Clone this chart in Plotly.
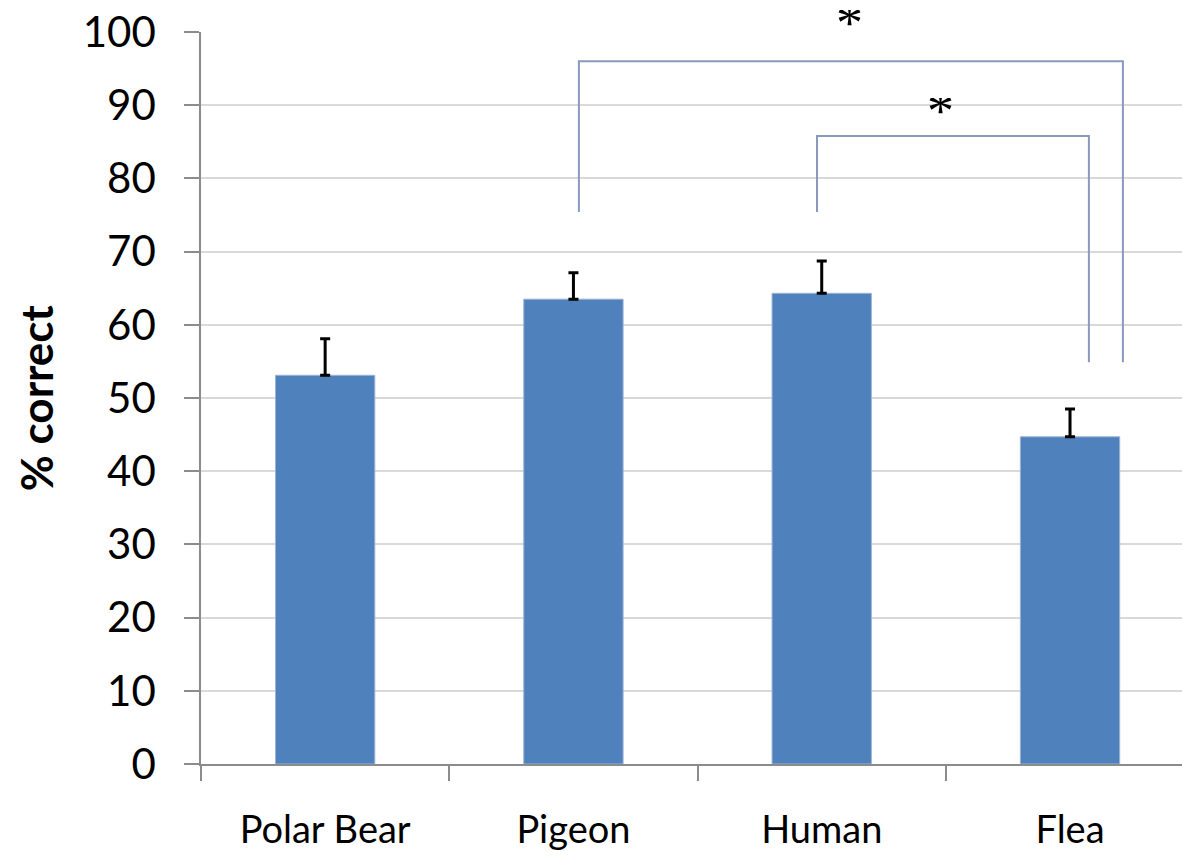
import plotly.graph_objects as go

# Mean accuracy per group with upper error bar
categories = ["Polar Bear", "Pigeon", "Human", "Flea"]
means = [53.1, 63.5, 64.3, 44.7]
errors = [5.0, 3.6, 4.4, 3.8]

# Significance brackets: (left group, right group), bracket top, leg bottoms
bracket_pairs = [("Pigeon", "Flea"), ("Human", "Flea")]
bracket_tops = [96.0, 85.8]
bracket_left_bottoms = [75.4, 75.4]
bracket_right_bottoms = [54.9, 54.9]
bracket_left_offsets = [0.022, -0.019]
bracket_right_offsets = [0.213, 0.076]
star_labels = ["*", "*"]
star_y = [101.2, 89.2]
star_offsets = [-0.006, -0.05]

y_ticks = list(range(0, 101, 10))
Y_MAX = 100

BAR_BLUE = "#4F81BD"
BRACKET = "#8C99BE"
GRID = "#D9D9D9"
AXIS = "#8C8C8C"

fig = go.Figure()
fig.add_trace(go.Bar(
    x=categories,
    y=means,
    marker=dict(color=BAR_BLUE, line=dict(color="#9DB3D3", width=1)),
    error_y=dict(type="data", symmetric=False, array=errors,
                 arrayminus=[0] * len(errors),
                 color="black", thickness=3, width=5),
    width=0.4,
))

idx = {c: i for i, c in enumerate(categories)}
for (a, b), top, lb, rb, lo, ro, lab, sy, so in zip(
        bracket_pairs, bracket_tops, bracket_left_bottoms, bracket_right_bottoms,
        bracket_left_offsets, bracket_right_offsets, star_labels, star_y,
        star_offsets):
    x0 = idx[a] + lo
    x1 = idx[b] + ro
    fig.add_shape(
        type="path", xref="x", yref="y",
        path=f"M {x0},{lb} L {x0},{top} L {x1},{top} L {x1},{rb}",
        line=dict(color=BRACKET, width=2),
    )
    # compact text box so the asterisk sits snugly inside it
    fig.add_annotation(
        x=(x0 + x1) / 2 + so, y=sy / Y_MAX, xref="x", yref="paper",
        text=lab, showarrow=False, height=26, valign="middle",
        font=dict(family="Liberation Serif", size=54, color="black"),
        xanchor="center", yanchor="middle",
    )

fig.add_annotation(
    x=-0.168, y=0.5, xref="paper", yref="paper", text="<b>% correct</b>",
    showarrow=False, textangle=-90, xanchor="center", yanchor="middle",
    font=dict(family="Lato", size=44, color="black"),
)

fig.update_layout(
    width=1182, height=856,
    margin=dict(l=201, r=0, t=32, b=92),
    paper_bgcolor="white", plot_bgcolor="white",
    showlegend=False,
    xaxis=dict(
        type="category",
        range=[-0.5, 3.451],
        tickson="boundaries",
        ticks="outside", ticklen=15, tickcolor=AXIS, tickwidth=1.5,
        showline=True, linecolor=AXIS, linewidth=1.5,
        showgrid=False,
        tickfont=dict(family="Lato", size=38, color="black"),
        ticklabelstandoff=32,
    ),
    yaxis=dict(
        range=[0, Y_MAX],
        tickvals=y_ticks,
        ticks="outside", ticklen=15, tickcolor=AXIS, tickwidth=1.5,
        showline=True, linecolor=AXIS, linewidth=1.5,
        showgrid=True, gridcolor=GRID, gridwidth=1.5,
        zeroline=False,
        tickfont=dict(family="Lato", size=42, color="black"),
        ticklabelstandoff=20,
    ),
)

fig.write_html("out.html")
